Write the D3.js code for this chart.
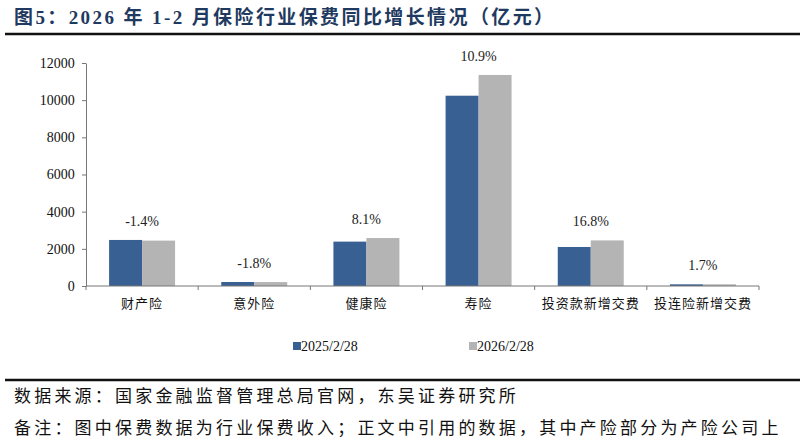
<!DOCTYPE html>
<html lang="zh">
<head>
<meta charset="UTF-8">
<script src="https://cdn.jsdelivr.net/npm/d3@7/dist/d3.min.js"></script>
<style>
    body { margin: 0; background: #fff; }
    text { font-family: "Liberation Serif", "Noto Sans CJK SC", serif; }
    .cjk { font-family: "Liberation Serif", "Noto Sans CJK SC", sans-serif; }
</style>
</head>
<body>
<svg id="chart" width="805" height="443"></svg>
<script>
    // data (亿元)
    var categories = ['财产险', '意外险', '健康险', '寿险', '投资款新增交费', '投连险新增交费'];
    var series = ['2025/2/28', '2026/2/28'];
    var values2025 = [2478, 215, 2388, 10240, 2100, 90];
    var values2026 = [2443, 211, 2581, 11356, 2453, 92];
    var growthLabels = ['-1.4%', '-1.8%', '8.1%', '10.9%', '16.8%', '1.7%'];
    var yTicks = [0, 2000, 4000, 6000, 8000, 10000, 12000];
    var colors = ['#386093', '#b4b4b4'];

    var svg = d3.select('#chart');

    // title + rule
    svg.append('text')
        .attr('x', 14).attr('y', 24)
        .attr('font-size', 19).attr('font-weight', 'bold')
        .attr('letter-spacing', 2.4)
        .attr('fill', '#1f3a60')
        .text('图5：2026 年 1-2 月保险行业保费同比增长情况（亿元）');
    svg.append('line')
        .attr('x1', 5).attr('x2', 800).attr('y1', 34).attr('y2', 34)
        .attr('stroke', '#111').attr('stroke-width', 2.5);

    var x = d3.scaleBand().domain(categories).range([86, 759]);
    var xs = d3.scaleBand().domain(series).range([0, x.bandwidth()]).paddingOuter(0.7);
    var y = d3.scaleLinear().domain([0, 12000]).range([286, 63]);

    var rows = categories.map(function(c, i) {
        return { cat: c, vals: [values2025[i], values2026[i]], label: growthLabels[i] };
    });

    var g = svg.append('g');
    var groups = g.selectAll('.grp').data(rows).enter().append('g')
        .attr('class', 'grp')
        .attr('transform', function(d) { return 'translate(' + x(d.cat) + ',0)'; });

    groups.selectAll('rect')
        .data(function(d) { return d.vals.map(function(v, j) { return { s: series[j], v: v, j: j }; }); })
        .enter().append('rect')
        .attr('x', function(d) { return xs(d.s); })
        .attr('width', xs.bandwidth())
        .attr('y', function(d) { return y(d.v); })
        .attr('height', function(d) { return y(0) - y(d.v); })
        .attr('fill', function(d) { return colors[d.j]; });

    groups.append('text')
        .attr('x', x.bandwidth() / 2)
        .attr('y', function(d) { return y(d3.max(d.vals)) - 14; })
        .attr('text-anchor', 'middle')
        .attr('font-size', 14)
        .attr('fill', '#222')
        .text(function(d) { return d.label; });

    // y axis
    var yAxis = svg.append('g')
        .attr('transform', 'translate(86,0)')
        .call(d3.axisLeft(y).tickValues(yTicks).tickSize(4).tickSizeOuter(0).tickFormat(d3.format('d')));
    yAxis.selectAll('text').attr('font-size', 14).attr('fill', '#111').attr('dx', '-0.3em')
        .style('font-family', '"Liberation Serif", serif');
    yAxis.selectAll('line, path').attr('stroke', '#777');

    // x axis
    var xAxis = svg.append('g').attr('transform', 'translate(0,286)');
    xAxis.append('line')
        .attr('x1', 86).attr('x2', 759).attr('y1', 0).attr('y2', 0)
        .attr('stroke', '#777');
    var bounds = categories.map(function(c) { return x(c); }).concat([759]);
    xAxis.selectAll('.xt').data(bounds).enter().append('line')
        .attr('class', 'xt')
        .attr('x1', function(d) { return d; }).attr('x2', function(d) { return d; })
        .attr('y1', 0).attr('y2', 4)
        .attr('stroke', '#777');
    xAxis.selectAll('.xl').data(categories).enter().append('text')
        .attr('class', 'xl cjk')
        .attr('x', function(d) { return x(d) + x.bandwidth() / 2; })
        .attr('y', 22)
        .attr('text-anchor', 'middle')
        .attr('font-size', 13)
        .attr('letter-spacing', 1)
        .attr('fill', '#111')
        .text(function(d) { return d; });

    // legend
    var legX = [293, 469];
    var leg = svg.selectAll('.leg').data(series).enter().append('g')
        .attr('class', 'leg')
        .attr('transform', function(d, i) { return 'translate(' + legX[i] + ',342)'; });
    leg.append('rect').attr('width', 8).attr('height', 8)
        .attr('fill', function(d, i) { return colors[i]; });
    leg.append('text').attr('x', 8).attr('y', 9)
        .attr('font-size', 14).attr('fill', '#111')
        .text(function(d) { return d; });

    // footer
    svg.append('line')
        .attr('x1', 5).attr('x2', 800).attr('y1', 380).attr('y2', 380)
        .attr('stroke', '#111').attr('stroke-width', 2.5);
    svg.append('text').attr('class', 'cjk')
        .attr('x', 14).attr('y', 402)
        .attr('font-size', 17).attr('letter-spacing', 3.2).attr('fill', '#111')
        .text('数据来源：国家金融监督管理总局官网，东吴证券研究所');
    svg.append('text').attr('class', 'cjk')
        .attr('x', 14).attr('y', 434)
        .attr('font-size', 17).attr('letter-spacing', 3.2).attr('fill', '#111')
        .text('备注：图中保费数据为行业保费收入；正文中引用的数据，其中产险部分为产险公司上');
</script>
</body>
</html>
